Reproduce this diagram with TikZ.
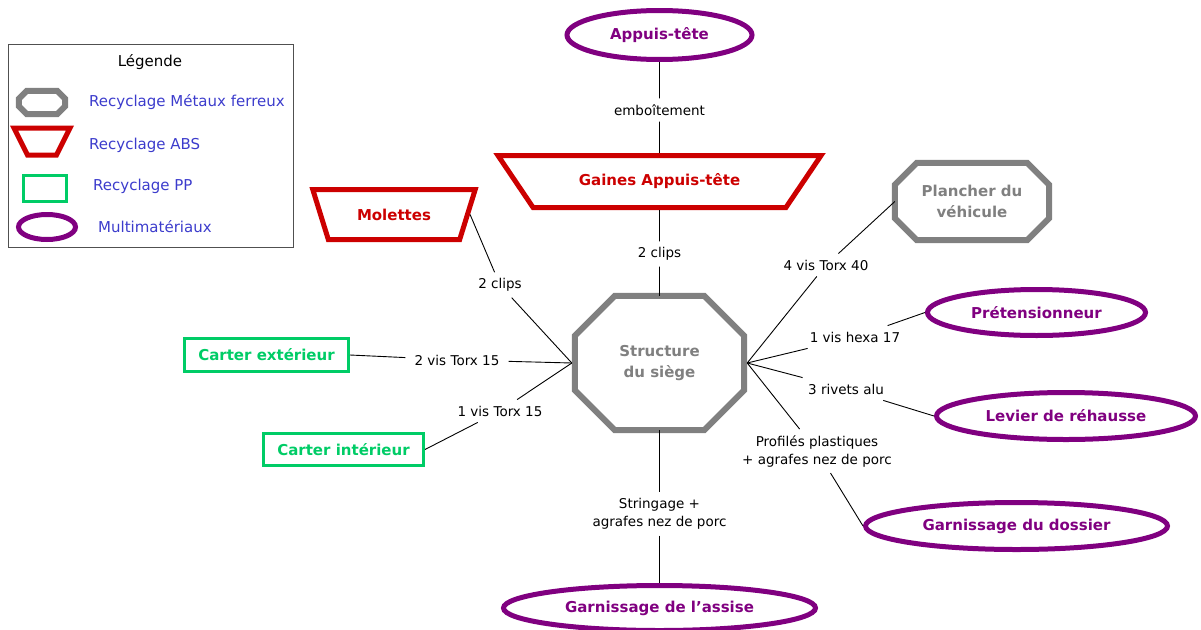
\documentclass[tikz,border=0pt]{standalone}
\usepackage{fontspec}
\setmainfont{DejaVu Sans}
\usepackage{tikz}
\usetikzlibrary{shapes.geometric}
\definecolor{metal}{HTML}{808080}
\definecolor{absred}{HTML}{CC0000}
\definecolor{ppgreen}{HTML}{00CC66}
\definecolor{multi}{HTML}{800080}
\definecolor{legblue}{HTML}{3C3CCC}
\definecolor{frame}{HTML}{505050}

\begin{document}
\begin{tikzpicture}[x=1pt,y=-1pt,
  nodefont/.style={font=\bfseries\fontsize{15}{21}\selectfont},
  metalnode/.style={rectangle,inner sep=0pt,nodefont,text=metal,align=center},
  octo/.style={metal,line width=6pt},
  absnode/.style={trapezium,shape border rotate=180,trapezium stretches=true,draw=absred,line width=5pt,inner sep=0pt,nodefont,text=absred},
  ppnode/.style={rectangle,draw=ppgreen,line width=3pt,inner sep=0pt,nodefont,text=ppgreen},
  multinode/.style={ellipse,draw=multi,line width=5pt,inner sep=0pt,nodefont,text=multi},
  lbl/.style={align=center,inner xsep=9pt,inner ysep=6pt,font=\fontsize{13.5}{18}\selectfont},
  legtxt/.style={anchor=west,inner sep=0pt,text=legblue,font=\fontsize{15}{18}\selectfont},
  link/.style={line width=0.9pt}]
  \useasboundingbox (0,0) rectangle (1201,629);
  % legende
  \node[draw=frame,line width=1.5pt,minimum width=285pt,minimum height=203pt] (legende) at (151,146) {};
  \node[font=\fontsize{15}{18}\selectfont] (legtitre) at (150,62) {Légende};
  \node[metalnode,minimum width=46pt,minimum height=23pt] (legfer) at (42,102.5) {};
  \node[absnode,inner sep=2pt,trapezium angle=65,minimum width=56pt,minimum height=27pt] (legabs) at (42,141.5) {};
  \node[ppnode,minimum width=43pt,minimum height=26pt] (legpp) at (45,188.5) {};
  \node[multinode,inner sep=2pt,minimum width=57pt,minimum height=25pt] (legmulti) at (47,227) {};
  \node[legtxt] (txtfer) at (89,102) {Recyclage Métaux ferreux};
  \node[legtxt] (txtabs) at (89,145) {Recyclage ABS};
  \node[legtxt] (txtpp) at (93,186) {Recyclage PP};
  \node[legtxt] (txtmulti) at (98,227) {Multimatériaux};

  % pieces
  \node[metalnode,minimum width=169pt,minimum height=134pt] (siege) at (659.5,363) {Structure\\du siège};
  \node[metalnode,minimum width=154pt,minimum height=77pt] (plancher) at (972,201.5) {Plancher du\\véhicule};
  \node[absnode,trapezium angle=34,minimum width=324pt,minimum height=52pt] (gaines) at (659.5,181.5) {Gaines Appuis-tête};
  \node[absnode,trapezium angle=53,minimum width=163pt,minimum height=50pt] (molettes) at (394,214.5) {Molettes};
  \node[ppnode,minimum width=164pt,minimum height=33pt] (cext) at (266.5,355) {Carter extérieur};
  \node[ppnode,minimum width=160pt,minimum height=32pt] (cint) at (343.5,449.5) {Carter intérieur};
  \node[multinode,minimum width=185pt,minimum height=49pt] (appui) at (659.5,35) {Appuis-tête};
  \node[multinode,minimum width=218pt,minimum height=46pt] (pretens) at (1036.5,312.5) {Prétensionneur};
  \node[multinode,minimum width=259pt,minimum height=47pt] (levier) at (1066,416) {Levier de réhausse};
  \node[multinode,minimum width=302pt,minimum height=47pt] (dossier) at (1016.5,526) {Garnissage du dossier};
  \node[multinode,minimum width=312pt,minimum height=45pt] (assise) at (659.5,608) {Garnissage de l'assise};
  \foreach \n/\c in {siege/40,plancher/22,legfer/8}
    \draw[octo] ([xshift=\c pt]\n.north west) -- ([xshift=-\c pt]\n.north east) -- ([yshift=-\c pt]\n.north east)
      -- ([yshift=\c pt]\n.south east) -- ([xshift=-\c pt]\n.south east) -- ([xshift=\c pt]\n.south west)
      -- ([yshift=\c pt]\n.south west) -- ([yshift=-\c pt]\n.north west) -- cycle;

  % liaisons
  \node[lbl] (emb) at (659.5,110) {emboîtement};
  \node[lbl] (clipsg) at (659.5,254) {2 clips};
  \node[lbl] (clipsm) at (500,285) {2 clips};
  \node[lbl] (torxext) at (457,360) {2 vis Torx 15};
  \node[lbl] (torxint) at (500,411) {1 vis Torx 15};
  \node[lbl] (torx40) at (826,265) {4 vis Torx 40};
  \node[lbl] (hexa) at (855,337) {1 vis hexa 17};
  \node[lbl] (rivets) at (846,389) {3 rivets alu};
  \node[lbl] (profils) at (817,451) {Profilés plastiques\\+ agrafes nez de porc};
  \node[lbl] (stringage) at (659.5,514) {Stringage +\\agrafes nez de porc};
  \coordinate (sw) at ([xshift=-3pt]siege.west);
  \coordinate (se) at ([xshift=3pt]siege.east);
  \draw[link] (appui) -- (emb) -- (gaines);
  \draw[link] (gaines) -- (clipsg) -- (siege);
  \draw[link] (molettes.east) -- (clipsm) -- (sw);
  \draw[link] (cext.east) -- (torxext) -- (sw);
  \draw[link] (cint.east) -- (torxint) -- (sw);
  \draw[link] (plancher.west) -- (torx40) -- (se);
  \draw[link] (pretens.west) -- (hexa) -- (se);
  \draw[link] (levier.west) -- (rivets) -- (se);
  \draw[link] (dossier.west) -- (profils) -- (se);
  \draw[link] (siege) -- (stringage) -- (assise);
\end{tikzpicture}
\end{document}
